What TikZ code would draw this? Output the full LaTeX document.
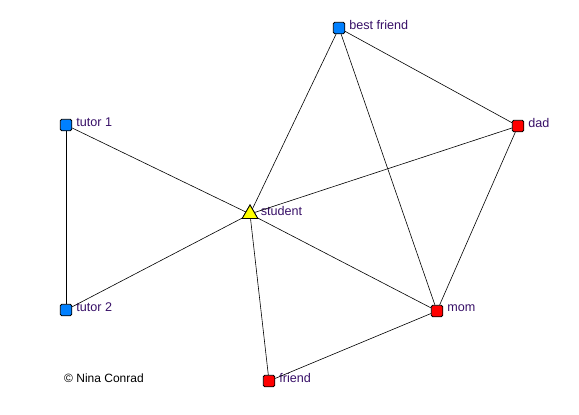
\documentclass[tikz,border=0pt]{standalone}
\usepackage{fontspec}
\setmainfont{Liberation Sans}
\usepackage{xcolor}
\usetikzlibrary{shapes.geometric,positioning}

\definecolor{nodeblue}{RGB}{0,128,255}
\definecolor{nodered}{RGB}{255,0,0}
\definecolor{nodeyellow}{RGB}{255,255,0}
\definecolor{labelpurple}{RGB}{56,16,104}

\tikzset{
    lbl/.style={text=labelpurple, font=\fontsize{12.6}{14}\selectfont, inner sep=0pt, anchor=west, xshift=4pt, yshift=3pt},
    person/.style={draw=black, line width=0.8pt, rounded corners=1.5pt, inner sep=0pt, minimum size=11.5pt},
    kin/.style={person, fill=nodered},
    other/.style={person, fill=nodeblue},
    ego/.style={draw=black, line width=0.8pt, fill=nodeyellow, regular polygon, regular polygon sides=3, inner sep=0pt, minimum size=18pt},
    tie/.style={line width=0.6pt, black}
}

\begin{document}
\begin{tikzpicture}[x=1pt,y=-1pt]
    % Frame
    \fill[white] (0,0) rectangle (579,415);
    \useasboundingbox (0,0) rectangle (579,415);

    % Nodes
    \node[other] (bestfriend) at (339,28) {};
    \node[kin] (dad) at (518,126) {};
    \node[other] (tutorA) at (66,125) {};
    \node[ego] (student) at (250,214) {};
    \node[other] (tutorB) at (66,310) {};
    \node[kin] (mom) at (437,311) {};
    \node[kin] (friend) at (269,381) {};

    % Labels
    \node[lbl] at (bestfriend.east) {best friend};
    \node[lbl] at (dad.east) {dad};
    \node[lbl] at (tutorA.east) {tutor 1};
    \node[lbl, xshift=1pt] at (student.east) {student};
    \node[lbl] at (tutorB.east) {tutor 2};
    \node[lbl] at (mom.east) {mom};
    \node[lbl] at (friend.east) {friend};

    % Ties
    \draw[tie] (tutorA) -- (tutorB);
    \draw[tie] (tutorA) -- (student.center);
    \draw[tie] (tutorB) -- (student.center);
    \draw[tie] (student.center) -- (bestfriend);
    \draw[tie] (student.center) -- (dad);
    \draw[tie] (student.center) -- (mom);
    \draw[tie] (student.center) -- (friend);
    \draw[tie] (bestfriend) -- (dad);
    \draw[tie] (bestfriend) -- (mom);
    \draw[tie] (dad) -- (mom);
    \draw[tie] (mom) -- (friend);

    % Student again, over the ties
    \node[ego] at (student.center) {};

    % Credit
    \node[anchor=west, font=\fontsize{12}{13}\selectfont, inner sep=0pt] (credit) at (64,378) {© Nina Conrad};
\end{tikzpicture}
\end{document}
